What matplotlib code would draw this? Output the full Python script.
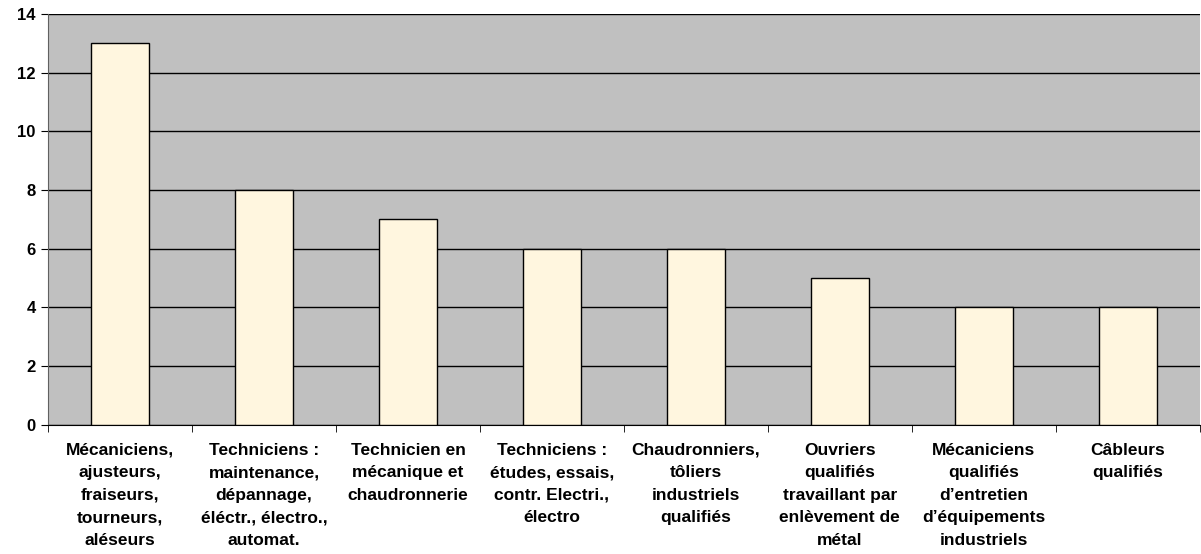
import matplotlib.pyplot as plt
import numpy as np

# ── Data ──────────────────────────────────────────────────────────────────────
categories = [
    "Mécaniciens,\najusteurs,\nfraiseurs,\ntourneurs,\naléseurs",
    "Techniciens :\nmaintenance,\ndépannage,\néléctr., électro.,\nautomat.",
    "Technicien en\nmécanique et\nchaudronnerie",
    "Techniciens :\nétudes, essais,\ncontr. Electri.,\nélectro",
    "Chaudronniers,\ntôliers\nindustriels\nqualifiés",
    "Ouvriers\nqualifiés\ntravaillant par\nenlèvement de\nmétal",
    "Mécaniciens\nqualifiés\nd’entretien\nd’équipements\nindustriels",
    "Câbleurs\nqualifiés",
]
values = [13, 8, 7, 6, 6, 5, 4, 4]
yticks = [0, 2, 4, 6, 8, 10, 12, 14]

plt.rcParams["font.family"] = ["Liberation Sans", "DejaVu Sans"]

fig = plt.figure(figsize=(12.01, 5.54), dpi=100)
ax = fig.add_axes([0.040, 0.233, 0.959, 0.742])

x = np.arange(len(values))
ax.set_facecolor("#C0C0C0")
ax.bar(x, values, width=0.4, color="#FFF6DF", edgecolor="black", linewidth=1, zorder=3)

ax.set_xlim(-0.5, len(values) - 0.5)
ax.set_ylim(0, 14)
ax.set_yticks(yticks)
ax.set_yticklabels([str(t) for t in yticks], fontsize=12, fontweight="bold")
ax.yaxis.grid(True, color="black", linewidth=1, zorder=1)

# category labels between boundary ticks
ax.set_xticks(x)
ax.set_xticklabels(categories, fontsize=12.5, fontweight="bold", linespacing=1.62, va="top")
ax.tick_params(axis="x", length=0, pad=13)
ax.set_xticks(np.arange(len(values) + 1) - 0.5, minor=True)
ax.tick_params(axis="x", which="minor", length=5, direction="out", color="black")
ax.tick_params(axis="y", length=5, direction="out", pad=4)

for side in ["top", "right"]:
    ax.spines[side].set_visible(False)
ax.spines["left"].set_color("#606060")
ax.spines["bottom"].set_color("black")

fig.savefig("out.png", dpi=100)
